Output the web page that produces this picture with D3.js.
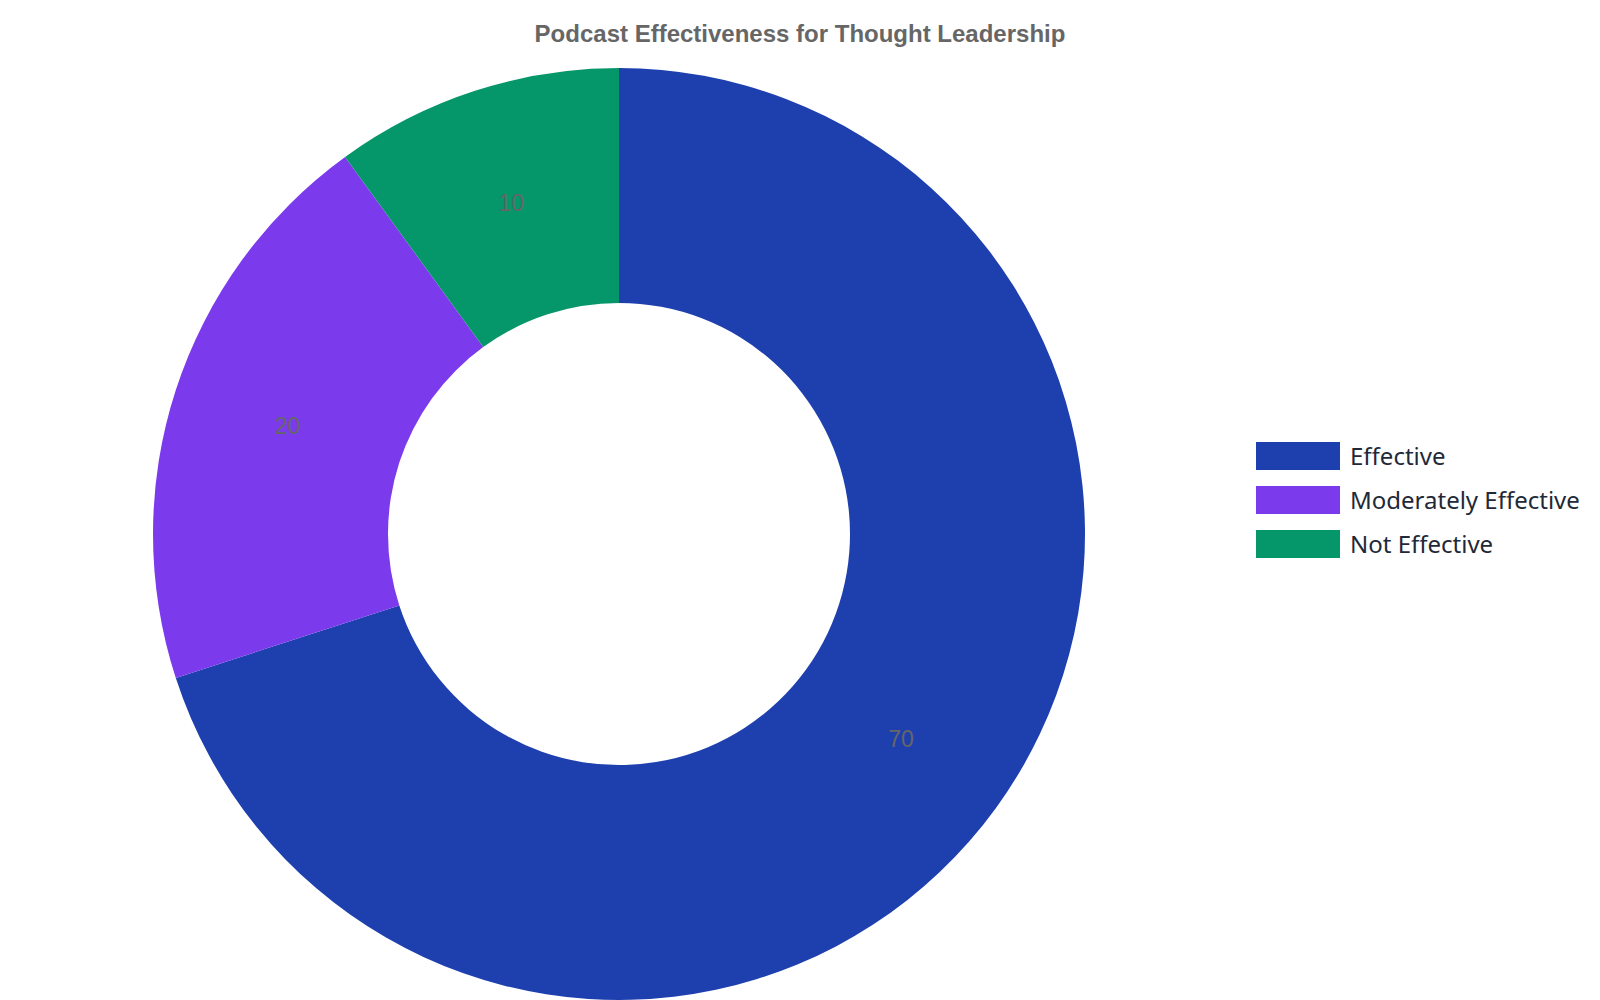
<!DOCTYPE html>
<html>
<head>
<meta charset="utf-8">
<script src="https://cdn.jsdelivr.net/npm/d3@7"></script>
<style>
  body { margin: 0; background: #fff; }
</style>
</head>
<body>
<div id="chart"></div>
<script>
const categories = ['Effective', 'Moderately Effective', 'Not Effective'];
const values = [70, 20, 10];
const colors = ['#1e40af', '#7c3aed', '#059669'];
const title = 'Podcast Effectiveness for Thought Leadership';

const width = 1600;
const height = 1000;
const cx = 619, cy = 534;
const outerR = 466, innerR = 231;

const svg = d3.select('#chart')
  .append('svg')
  .attr('width', width)
  .attr('height', height);

svg.append('text')
  .attr('x', width / 2)
  .attr('y', 42)
  .attr('text-anchor', 'middle')
  .attr('font-family', 'Liberation Sans, Arial, sans-serif')
  .attr('font-weight', 'bold')
  .attr('font-size', '24px')
  .attr('fill', '#666')
  .text(title);

const data = categories.map((c, i) => ({ name: c, value: values[i], color: colors[i] }));

const pie = d3.pie().sort(null).value(d => d.value);
const arc = d3.arc().innerRadius(innerR).outerRadius(outerR);

const g = svg.append('g').attr('transform', `translate(${cx},${cy})`);

const slices = g.selectAll('g.slice')
  .data(pie(data))
  .enter()
  .append('g')
  .attr('class', 'slice');

slices.append('path')
  .attr('d', arc)
  .attr('fill', d => d.data.color);

// value labels sit on the arc centroid
slices.append('text')
  .attr('transform', d => `translate(${arc.centroid(d)})`)
  .attr('text-anchor', 'middle')
  .attr('dy', '0.35em')
  .attr('font-family', 'Liberation Sans, Arial, sans-serif')
  .attr('font-size', '23px')
  .attr('fill', '#666')
  .text(d => d.data.value);

// legend
const legend = svg.append('g').attr('transform', 'translate(1256,442)');
const rows = legend.selectAll('g')
  .data(data)
  .enter()
  .append('g')
  .attr('transform', (d, i) => `translate(0,${i * 44})`);

rows.append('rect')
  .attr('width', 84)
  .attr('height', 28)
  .attr('fill', d => d.color);

rows.append('text')
  .attr('x', 94)
  .attr('y', 15)
  .attr('dy', '0.35em')
  .attr('font-family', 'Noto Sans, Open Sans, sans-serif')
  .attr('font-size', '24px')
  .attr('fill', '#1f2937')
  .text(d => d.name);
</script>
</body>
</html>
